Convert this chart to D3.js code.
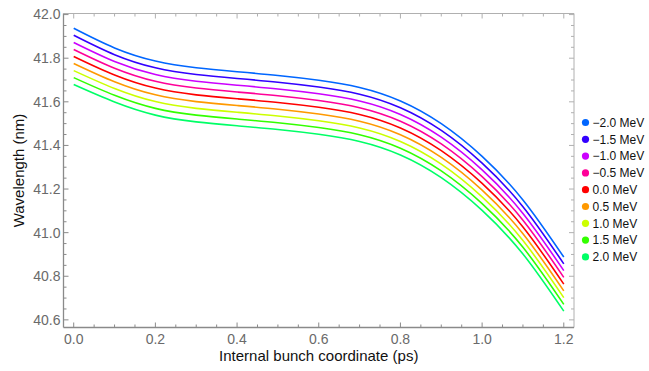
<!DOCTYPE html>
<html>
<head>
<meta charset="utf-8">
<script src="https://cdn.jsdelivr.net/npm/d3@7"></script>
<style>
  html, body { margin: 0; padding: 0; background: #fff; }
  svg { display: block; }
</style>
</head>
<body>
<svg id="chart" width="649" height="371"></svg>
<script>
// ---- data ----
const xValues = [0.0, 0.1, 0.2, 0.3, 0.4, 0.5, 0.6, 0.7, 0.8, 0.9, 1.0, 1.1, 1.2];
const seriesLabels = ["\u22122.0 MeV", "\u22121.5 MeV", "\u22121.0 MeV", "\u22120.5 MeV", "0.0 MeV", "0.5 MeV", "1.0 MeV", "1.5 MeV", "2.0 MeV"];
const sM20 = [41.937, 41.847, 41.787, 41.756, 41.738, 41.721, 41.699, 41.666, 41.604, 41.500, 41.350, 41.150, 40.888];
const sM15 = [41.905, 41.816, 41.756, 41.725, 41.707, 41.690, 41.668, 41.635, 41.573, 41.469, 41.319, 41.119, 40.857];
const sM10 = [41.872, 41.785, 41.725, 41.694, 41.676, 41.659, 41.637, 41.604, 41.542, 41.438, 41.288, 41.088, 40.826];
const sM05 = [41.840, 41.754, 41.694, 41.663, 41.645, 41.628, 41.606, 41.573, 41.511, 41.407, 41.257, 41.057, 40.795];
const sP00 = [41.808, 41.723, 41.663, 41.632, 41.614, 41.597, 41.575, 41.542, 41.480, 41.376, 41.226, 41.026, 40.764];
const sP05 = [41.776, 41.692, 41.632, 41.601, 41.583, 41.566, 41.544, 41.511, 41.449, 41.345, 41.195, 40.995, 40.733];
const sP10 = [41.743, 41.661, 41.601, 41.570, 41.552, 41.535, 41.513, 41.480, 41.418, 41.314, 41.164, 40.964, 40.702];
const sP15 = [41.711, 41.630, 41.570, 41.539, 41.521, 41.504, 41.482, 41.449, 41.387, 41.283, 41.133, 40.933, 40.671];
const sP20 = [41.679, 41.599, 41.539, 41.508, 41.490, 41.473, 41.451, 41.418, 41.356, 41.252, 41.102, 40.902, 40.640];
const seriesColors = ["#0066ff", "#3300ff", "#cc00ff", "#ff0099", "#ff0000", "#ff9900", "#ccff00", "#33ff00", "#00ff66"];
const xTicks = [0.0, 0.2, 0.4, 0.6, 0.8, 1.0, 1.2];
const yTicks = [40.6, 40.8, 41.0, 41.2, 41.4, 41.6, 41.8, 42.0];
const xLabel = "Internal bunch coordinate (ps)";
const yLabel = "Wavelength (nm)";

const allSeries = [sM20, sM15, sM10, sM05, sP00, sP05, sP10, sP15, sP20];

// ---- layout ----
const svg = d3.select("#chart");
const pL = 63.5, pR = 574, pT = 13.5, pB = 327.5;
const x = d3.scaleLinear().domain([-0.025, 1.225]).range([pL, pR]);
const y = d3.scaleLinear().domain([40.565, 42.005]).range([pB, pT]);

const axisColor = "#8a8a8a";
const frameColor = "#b0b0b0";
const labelColor = "#6a6a6a";
const font = "'Liberation Sans', Arial, sans-serif";

const xMinor = d3.range(0, 1.2001, 0.05).filter(v => !xTicks.some(t => Math.abs(t - v) < 1e-6));
const yMinor = d3.range(40.6, 42.0001, 0.05).filter(v => !yTicks.some(t => Math.abs(t - v) < 1e-6));

// frame (top & right)
svg.append("line").attr("x1", pL).attr("x2", pR).attr("y1", pT).attr("y2", pT)
  .attr("stroke", frameColor).attr("stroke-width", 1);
svg.append("line").attr("x1", pR).attr("x2", pR).attr("y1", pT).attr("y2", pB)
  .attr("stroke", frameColor).attr("stroke-width", 1);

const tickG = svg.append("g").attr("stroke", axisColor).attr("stroke-width", 1);
const majorLen = 5, minorLen = 3;
xTicks.forEach(v => {
  tickG.append("line").attr("x1", x(v)).attr("x2", x(v)).attr("y1", pB).attr("y2", pB - majorLen);
  tickG.append("line").attr("x1", x(v)).attr("x2", x(v)).attr("y1", pT).attr("y2", pT + majorLen).attr("stroke", frameColor);
});
xMinor.forEach(v => {
  tickG.append("line").attr("x1", x(v)).attr("x2", x(v)).attr("y1", pB).attr("y2", pB - minorLen);
  tickG.append("line").attr("x1", x(v)).attr("x2", x(v)).attr("y1", pT).attr("y2", pT + minorLen).attr("stroke", frameColor);
});
yTicks.forEach(v => {
  tickG.append("line").attr("x1", pL).attr("x2", pL + majorLen).attr("y1", y(v)).attr("y2", y(v));
  tickG.append("line").attr("x1", pR).attr("x2", pR - majorLen).attr("y1", y(v)).attr("y2", y(v)).attr("stroke", frameColor);
});
yMinor.forEach(v => {
  tickG.append("line").attr("x1", pL).attr("x2", pL + minorLen).attr("y1", y(v)).attr("y2", y(v));
  tickG.append("line").attr("x1", pR).attr("x2", pR - minorLen).attr("y1", y(v)).attr("y2", y(v)).attr("stroke", frameColor);
});

// axes lines
svg.append("line").attr("x1", pL).attr("x2", pR).attr("y1", pB).attr("y2", pB)
  .attr("stroke", axisColor).attr("stroke-width", 1.3);
svg.append("line").attr("x1", pL).attr("x2", pL).attr("y1", pT).attr("y2", pB)
  .attr("stroke", axisColor).attr("stroke-width", 1.3);

// tick labels
svg.append("g").selectAll("text").data(xTicks).join("text")
  .attr("x", d => x(d)).attr("y", pB + 16)
  .attr("text-anchor", "middle").attr("font-family", font).attr("font-size", 14)
  .attr("fill", labelColor).text(d => d.toFixed(1));
svg.append("g").selectAll("text").data(yTicks).join("text")
  .attr("x", pL - 3).attr("y", d => y(d)).attr("dy", "0.35em")
  .attr("text-anchor", "end").attr("font-family", font).attr("font-size", 14)
  .attr("fill", labelColor).text(d => d.toFixed(1));

// axis labels
svg.append("text").attr("x", (pL + pR) / 2).attr("y", 361)
  .attr("text-anchor", "middle").attr("font-family", font).attr("font-size", 15)
  .attr("fill", "#111").text(xLabel);
svg.append("text").attr("transform", `translate(24,${(pT + pB) / 2}) rotate(-90)`)
  .attr("text-anchor", "middle").attr("font-family", font).attr("font-size", 15)
  .attr("fill", "#111").text(yLabel);

// lines
const line = d3.line().x((d, i) => x(xValues[i])).y(d => y(d)).curve(d3.curveNatural);
svg.append("g").selectAll("path").data(allSeries).join("path")
  .attr("d", d => line(d)).attr("fill", "none")
  .attr("stroke", (d, i) => seriesColors[i]).attr("stroke-width", 1.6);

// legend
const leg = svg.append("g").attr("transform", "translate(585.5,122.5)");
const items = leg.selectAll("g").data(seriesLabels).join("g")
  .attr("transform", (d, i) => `translate(0,${i * 16.8})`);
items.append("circle").attr("r", 3.6).attr("fill", (d, i) => seriesColors[i]);
items.append("text").attr("x", 7).attr("dy", "0.35em").attr("font-family", font)
  .attr("font-size", 12).attr("fill", "#111").text(d => d);
</script>
</body>
</html>
